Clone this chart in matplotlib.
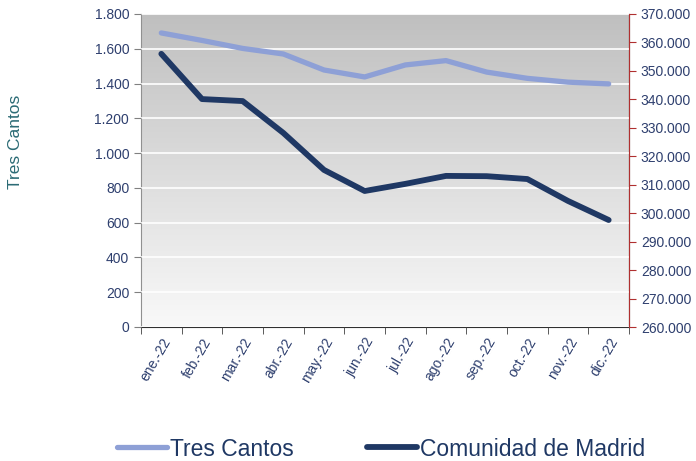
import numpy as np
import matplotlib
matplotlib.use("Agg")
import matplotlib.pyplot as plt
from matplotlib.ticker import FuncFormatter, FixedLocator

plt.rcParams['font.family'] = ['Liberation Sans', 'DejaVu Sans']

# datos
meses = ["ene.-22", "feb.-22", "mar.-22", "abr.-22", "may.-22", "jun.-22",
         "jul.-22", "ago.-22", "sep.-22", "oct.-22", "nov.-22", "dic.-22"]
tres_cantos = [1691, 1648, 1602, 1570, 1478, 1438, 1507, 1532, 1466, 1430, 1408, 1398]
comunidad = [356000, 340100, 339400, 328200, 315200, 307800, 310300, 313100, 313000, 312000, 304300, 297600]

c_tick = "#2e3f6e"
c_tc = "#8ea0d6"
c_cm = "#1f3864"

def miles(v, pos):
    return "{:,.0f}".format(v).replace(",", ".")

fig = plt.figure(figsize=(6.96, 4.61), dpi=100)
ax = fig.add_axes([141/696, 1 - 327/461, 488/696, 313/461])
ax2 = ax.twinx()

x = np.arange(len(meses))

# fondo degradado
grad = np.linspace(0, 1, 256).reshape(-1, 1)
ax.imshow(grad, extent=[0, 1, 0, 1], transform=ax.transAxes, aspect='auto',
          cmap=matplotlib.colors.LinearSegmentedColormap.from_list("g", ["#bfbfbf", "#f9f9f9"]),
          zorder=0, origin='upper')

ax.plot(x, tres_cantos, color=c_tc, lw=3.8, solid_capstyle='round', zorder=3, label="Tres Cantos")
ax2.plot(x, comunidad, color=c_cm, lw=4.2, solid_capstyle='round', zorder=3, label="Comunidad de Madrid")

ax.set_xlim(-0.5, 11.5)
ax.set_ylim(0, 1800)
ax.set_yticks(np.arange(0, 1801, 200))
ax.yaxis.set_major_formatter(FuncFormatter(miles))
ax2.set_ylim(260000, 370000)
ax2.set_yticks(np.arange(260000, 370001, 10000))
ax2.yaxis.set_major_formatter(FuncFormatter(miles))

ax.grid(axis='y', color='white', lw=1.2, zorder=1)
ax.set_axisbelow(False)

ax.set_xticks(x)
ax.set_xticklabels(meses, rotation=60, ha='right', rotation_mode='anchor', color=c_tick, fontsize=10)
ax.xaxis.set_minor_locator(FixedLocator(np.arange(-0.5, 12, 1)))
ax.tick_params(axis='x', which='major', length=0, pad=6)
ax.tick_params(axis='x', which='minor', length=5, color='#404040')
ax.tick_params(axis='y', colors='#808080', labelcolor=c_tick, labelsize=10, length=5)
ax2.tick_params(axis='y', colors='#b03030', labelcolor=c_tick, labelsize=10, length=5)

for a in (ax, ax2):
    a.spines['top'].set_visible(False)
ax.spines['left'].set_color('#909090')
ax.spines['bottom'].set_color('#303030')
ax2.spines['right'].set_color('#b03030')
ax2.spines['left'].set_visible(False)
ax2.spines['bottom'].set_visible(False)

fig.text(15/696, 1 - 142/461, "Tres Cantos", rotation=90, color="#2b6b75",
         fontsize=12.5, ha='center', va='center')

h1, l1 = ax.get_legend_handles_labels()
h2, l2 = ax2.get_legend_handles_labels()
fig.legend(h1 + h2, l1 + l2, loc='center', bbox_to_anchor=(381/696, 1 - 449/461), ncol=2,
           frameon=False, fontsize=16.5, handlelength=2.2, handletextpad=0.12,
           columnspacing=3.2, labelcolor=c_cm)

fig.savefig("out.png", dpi=100)
